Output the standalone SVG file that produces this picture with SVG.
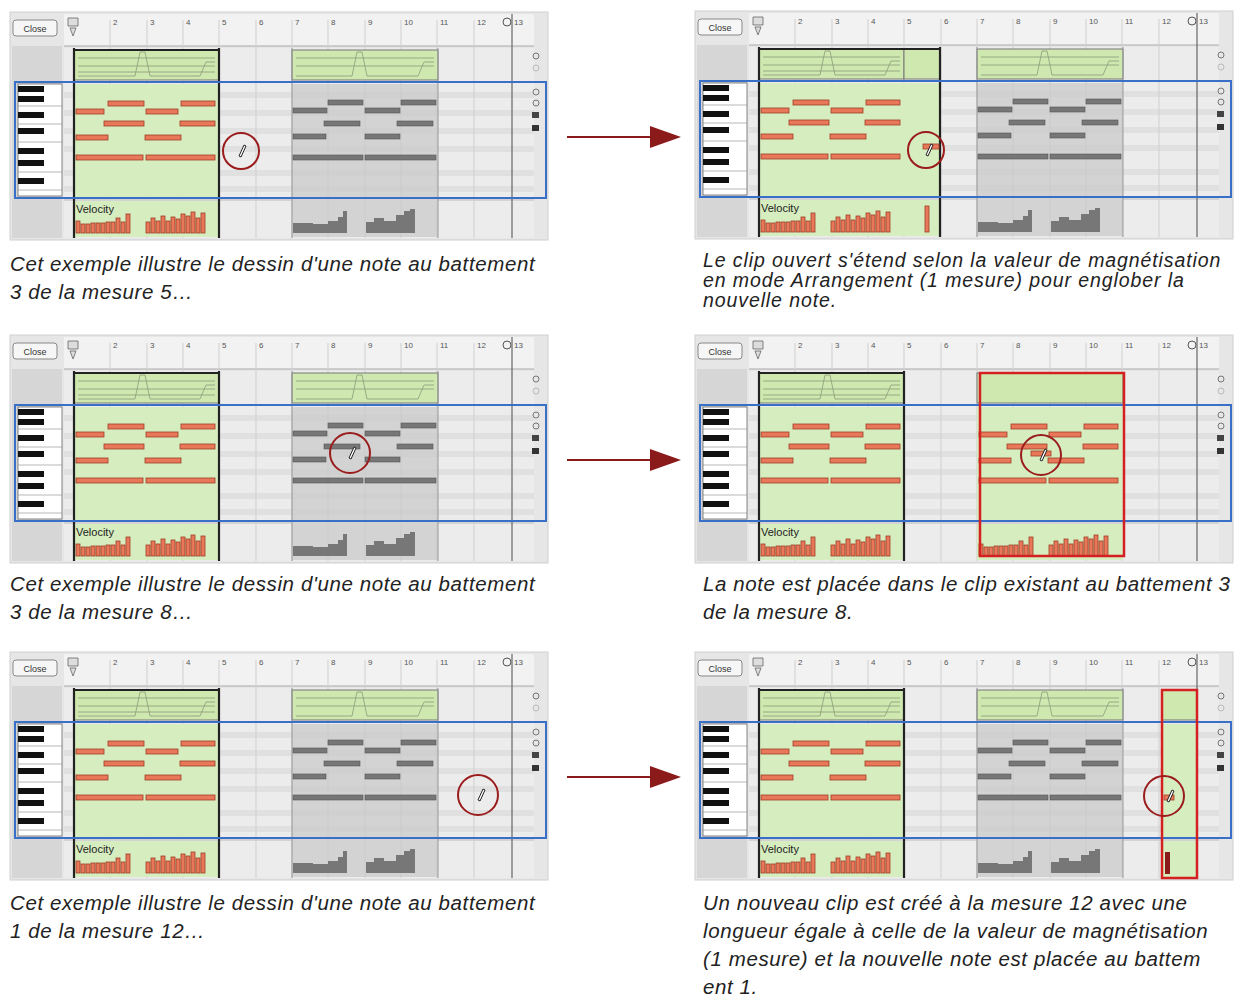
<svg xmlns="http://www.w3.org/2000/svg" width="1243" height="1004" viewBox="0 0 1243 1004">
<style>
.cap{font-family:"Liberation Sans",Arial,sans-serif;font-style:italic;font-size:20.5px;letter-spacing:0.6px;fill:#222}
.capr{font-family:"Liberation Sans",Arial,sans-serif;font-style:italic;font-size:19.5px;letter-spacing:0.9px;fill:#222}
.rn{font-family:"Liberation Sans",Arial,sans-serif;font-size:8px;fill:#555}
.on{fill:#e9785a;stroke:#9c3f27;stroke-width:0.8}
.gn{fill:#777;stroke:#555;stroke-width:0.6}
.ml{stroke:#cfcfcf;stroke-width:1}
.bold{stroke:#222;stroke-width:2.2}
.gr{fill:#d6edbf}
.grt{fill:#cfe8b0;stroke:#777;stroke-width:1}
.gy{fill:#c9c9c9;opacity:0.7}
.red{fill:none;stroke:#d42020;stroke-width:2.5}
.circ{fill:none;stroke:#9b1c1c;stroke-width:2}
.arr{stroke:#8b1a1a;stroke-width:2}
</style>
<defs>
<g id="base">
<rect x="10" y="12" width="538" height="228" fill="#e6e6e6" stroke="#cfcfcf"/>
<rect x="64" y="14" width="470" height="32" fill="#f2f2f2"/>
<line x1="64" y1="46" x2="534" y2="46" stroke="#aaa"/>
<rect x="13" y="20" width="44" height="16" rx="3" fill="#f6f6f6" stroke="#888"/>
<text x="35" y="32" text-anchor="middle" font-family="Liberation Sans,Arial,sans-serif" font-size="9" fill="#333">Close</text>
<rect x="12" y="46" width="50" height="192" fill="#d6d6d6"/>
<rect x="64" y="48" width="470" height="190" fill="#ececec"/>
<g fill="#e0e0e0">
<rect x="64" y="92" width="470" height="6"/><rect x="64" y="110" width="470" height="6"/><rect x="64" y="128" width="470" height="6"/><rect x="64" y="146" width="470" height="6"/><rect x="64" y="170" width="470" height="6"/><rect x="64" y="186" width="470" height="6"/>
</g>
<line x1="64" y1="200" x2="534" y2="200" stroke="#bbb"/>
<g class="ml">
<line x1="110" y1="20" x2="110" y2="238"/><line x1="147" y1="20" x2="147" y2="238"/><line x1="183" y1="20" x2="183" y2="238"/><line x1="219" y1="20" x2="219" y2="238"/><line x1="256" y1="20" x2="256" y2="238"/><line x1="292" y1="20" x2="292" y2="238"/><line x1="328" y1="20" x2="328" y2="238"/><line x1="365" y1="20" x2="365" y2="238"/><line x1="401" y1="20" x2="401" y2="238"/><line x1="437" y1="20" x2="437" y2="238"/><line x1="474" y1="20" x2="474" y2="238"/>
</g>
<g class="rn">
<text x="113" y="25">2</text><text x="150" y="25">3</text><text x="186" y="25">4</text><text x="222" y="25">5</text><text x="259" y="25">6</text><text x="295" y="25">7</text><text x="331" y="25">8</text><text x="368" y="25">9</text><text x="404" y="25">10</text><text x="440" y="25">11</text><text x="477" y="25">12</text><text x="514" y="25">13</text>
</g>
<circle cx="507" cy="22" r="4" fill="none" stroke="#555"/>
<path d="M68 18 h10 v8 h-10 z M70 28 l3 8 l3 -8 z" fill="#ddd" stroke="#666" stroke-width="0.8"/>
<rect x="18" y="84" width="44" height="112" fill="#fff" stroke="#666" stroke-width="0.8"/>
<g fill="#111">
<rect x="18" y="86" width="26" height="6"/><rect x="18" y="96" width="26" height="6"/><rect x="18" y="112" width="26" height="6"/><rect x="18" y="128" width="26" height="6"/><rect x="18" y="148" width="26" height="6"/><rect x="18" y="160" width="26" height="6"/><rect x="18" y="178" width="26" height="6"/>
</g>
<g stroke="#888" stroke-width="0.6"><line x1="18" y1="106" x2="62" y2="106"/><line x1="18" y1="124" x2="62" y2="124"/><line x1="18" y1="142" x2="62" y2="142"/><line x1="18" y1="172" x2="62" y2="172"/><line x1="18" y1="190" x2="62" y2="190"/></g>
<g fill="none" stroke="#777" stroke-width="1">
<circle cx="536" cy="56" r="3"/><circle cx="536" cy="68" r="3" stroke="#bbb"/><circle cx="536" cy="92" r="3"/><circle cx="536" cy="103" r="3"/>
</g>
<rect x="532" y="112" width="7" height="6" fill="#444"/><rect x="532" y="125" width="7" height="6" fill="#333"/>
<line x1="512" y1="14" x2="512" y2="238" stroke="#666" stroke-width="1.2"/>
</g>
<g id="clipA">
<rect x="74" y="50" width="145" height="30" class="grt"/>
<g stroke="#8a9a78" stroke-width="0.8" fill="none"><line x1="78" y1="58" x2="215" y2="58"/><line x1="78" y1="66" x2="215" y2="66"/><line x1="78" y1="72" x2="215" y2="72"/><path d="M78 76 H135 L140 52 H145 L150 76 H200 L206 62 H215"/></g>
<rect x="74" y="84" width="145" height="113" class="gr"/>
<rect x="74" y="201" width="145" height="36" class="gr"/>
</g>
<g id="notesA">
<rect x="108" y="101" width="36" height="5" class="on"/><rect x="181" y="101" width="34" height="5" class="on"/>
<rect x="76" y="109" width="28" height="5" class="on"/><rect x="146" y="109" width="32" height="5" class="on"/>
<rect x="104" y="121" width="40" height="5" class="on"/><rect x="180" y="121" width="35" height="5" class="on"/>
<rect x="76" y="135" width="32" height="5" class="on"/><rect x="145" y="135" width="36" height="5" class="on"/>
<rect x="76" y="155" width="67" height="5" class="on"/><rect x="146" y="155" width="69" height="5" class="on"/>
</g>
<g id="velA" class="on">
<rect x="76" y="221" width="4" height="12"/><rect x="81" y="224" width="4" height="9"/><rect x="86" y="224" width="4" height="9"/><rect x="91" y="223" width="4" height="10"/><rect x="96" y="223" width="4" height="10"/><rect x="101" y="223" width="4" height="10"/><rect x="106" y="222" width="4" height="11"/><rect x="111" y="222" width="4" height="11"/><rect x="116" y="218" width="4" height="15"/><rect x="121" y="222" width="4" height="11"/><rect x="126" y="214" width="4" height="19"/>
<rect x="146" y="222" width="4" height="11"/><rect x="151" y="218" width="4" height="15"/><rect x="156" y="221" width="4" height="12"/><rect x="161" y="216" width="4" height="17"/><rect x="166" y="221" width="4" height="12"/><rect x="171" y="217" width="4" height="16"/><rect x="176" y="219" width="4" height="14"/><rect x="181" y="214" width="4" height="19"/><rect x="186" y="216" width="4" height="17"/><rect x="191" y="212" width="4" height="21"/><rect x="196" y="218" width="4" height="15"/><rect x="201" y="213" width="4" height="20"/>
</g>
<g id="clipBgray">
<rect x="292" y="50" width="146" height="30" class="grt"/>
<g stroke="#8a9a78" stroke-width="0.8" fill="none"><line x1="296" y1="58" x2="434" y2="58"/><line x1="296" y1="66" x2="434" y2="66"/><path d="M296 76 H352 L357 52 H362 L367 76 H418 L424 62 H434"/></g>
<rect x="292" y="84" width="146" height="113" class="gy"/>
<rect x="292" y="201" width="146" height="36" class="gy"/>
<line x1="292" y1="48" x2="292" y2="238" stroke="#999"/><line x1="438" y1="48" x2="438" y2="238" stroke="#999"/>
<g class="gn">
<rect x="328" y="100" width="35" height="5"/><rect x="401" y="100" width="35" height="5"/>
<rect x="293" y="108" width="34" height="5"/><rect x="365" y="108" width="35" height="5"/>
<rect x="324" y="121" width="36" height="5"/><rect x="397" y="121" width="36" height="5"/>
<rect x="293" y="134" width="33" height="5"/><rect x="365" y="134" width="35" height="5"/>
<rect x="293" y="155" width="70" height="5"/><rect x="365" y="155" width="71" height="5"/>
</g>
<path d="M293 233 V223 h20 v1 h15 v-3 h10 v-4 h5 v-6 h4 v22 z M366 233 V222 h8 v-4 h10 v3 h12 v-6 h8 v-4 h6 v-2 h5 v24 z" fill="#777"/>
</g>
<g id="box"><rect x="15" y="82" width="531" height="116" fill="none" stroke="#3a6fc8" stroke-width="2"/></g>
<g id="pen"><path d="M-2 5 L3 -6 L5 -5 L0 6 Z" fill="#fff" stroke="#222" stroke-width="1"/></g>
</defs>

<g id="panel-L1">
<use href="#base"/><use href="#clipA"/><use href="#notesA"/><use href="#velA"/><use href="#clipBgray"/>
<line x1="74" y1="48" x2="74" y2="238" class="bold"/><line x1="219" y1="48" x2="219" y2="238" class="bold"/><line x1="74" y1="50" x2="219" y2="50" class="bold"/>
<text x="76" y="213" font-family="Liberation Sans,Arial,sans-serif" font-size="11" fill="#222">Velocity</text>
<use href="#box"/>
<circle cx="241" cy="151" r="18" class="circ"/><use href="#pen" x="241" y="151"/>
</g>

<g id="panel-R1" transform="translate(685,-1)">
<use href="#base"/><use href="#clipA"/>
<rect x="219" y="50" width="36" height="30" class="grt"/><rect x="219" y="84" width="36" height="113" class="gr"/><rect x="219" y="201" width="36" height="36" class="gr"/>
<use href="#notesA"/><use href="#velA"/><use href="#clipBgray"/>
<rect x="240" y="207" width="4" height="26" class="on"/>
<line x1="74" y1="48" x2="74" y2="238" class="bold"/><line x1="255" y1="48" x2="255" y2="238" class="bold"/><line x1="74" y1="50" x2="255" y2="50" class="bold"/>
<rect x="238" y="145" width="16" height="5" class="on"/>
<text x="76" y="213" font-family="Liberation Sans,Arial,sans-serif" font-size="11" fill="#222">Velocity</text>
<use href="#box"/>
<circle cx="241" cy="151" r="18" class="circ"/><use href="#pen" x="243" y="151"/>
</g>

<g id="panel-L2" transform="translate(0,323)">
<use href="#base"/><use href="#clipA"/><use href="#notesA"/><use href="#velA"/><use href="#clipBgray"/>
<line x1="74" y1="48" x2="74" y2="238" class="bold"/><line x1="219" y1="48" x2="219" y2="238" class="bold"/><line x1="74" y1="50" x2="219" y2="50" class="bold"/>
<text x="76" y="213" font-family="Liberation Sans,Arial,sans-serif" font-size="11" fill="#222">Velocity</text>
<use href="#box"/>
<circle cx="350" cy="130" r="20" class="circ"/><use href="#pen" x="351" y="130"/>
</g>

<g id="panel-R2" transform="translate(685,323)">
<use href="#base"/><use href="#clipA"/><use href="#notesA"/><use href="#velA"/>
<rect x="292" y="50" width="146" height="30" class="grt"/><rect x="292" y="84" width="146" height="113" class="gr"/><rect x="292" y="201" width="146" height="36" class="gr"/>
<use href="#notesA" x="218"/><use href="#velA" x="218"/>
<rect x="346" y="128" width="20" height="5" class="on"/>
<line x1="74" y1="48" x2="74" y2="238" class="bold"/><line x1="219" y1="48" x2="219" y2="238" class="bold"/><line x1="74" y1="50" x2="219" y2="50" class="bold"/>
<text x="76" y="213" font-family="Liberation Sans,Arial,sans-serif" font-size="11" fill="#222">Velocity</text>
<use href="#box"/>
<rect x="295" y="50" width="144" height="183" class="red"/>
<circle cx="356" cy="132" r="20" class="circ"/><use href="#pen" x="357" y="132"/>
</g>

<g id="panel-L3" transform="translate(0,640)">
<use href="#base"/><use href="#clipA"/><use href="#notesA"/><use href="#velA"/><use href="#clipBgray"/>
<line x1="74" y1="48" x2="74" y2="238" class="bold"/><line x1="219" y1="48" x2="219" y2="238" class="bold"/><line x1="74" y1="50" x2="219" y2="50" class="bold"/>
<text x="76" y="213" font-family="Liberation Sans,Arial,sans-serif" font-size="11" fill="#222">Velocity</text>
<use href="#box"/>
<circle cx="478" cy="155" r="20" class="circ"/><use href="#pen" x="480" y="155"/>
</g>

<g id="panel-R3" transform="translate(685,640)">
<use href="#base"/><use href="#clipA"/><use href="#notesA"/><use href="#velA"/><use href="#clipBgray"/>
<rect x="477" y="50" width="35" height="30" class="grt"/><rect x="477" y="84" width="35" height="113" class="gr"/><rect x="477" y="201" width="35" height="36" class="gr"/>
<rect x="479" y="155" width="10" height="5" class="on"/>
<rect x="480" y="212" width="5" height="22" fill="#8b1a1a"/>
<line x1="74" y1="48" x2="74" y2="238" class="bold"/><line x1="219" y1="48" x2="219" y2="238" class="bold"/><line x1="74" y1="50" x2="219" y2="50" class="bold"/>
<text x="76" y="213" font-family="Liberation Sans,Arial,sans-serif" font-size="11" fill="#222">Velocity</text>
<use href="#box"/>
<rect x="477" y="50" width="35" height="188" class="red"/>
<circle cx="479" cy="156" r="20" class="circ"/><use href="#pen" x="484" y="156"/>
</g>

<g id="connectors">
<line x1="567" y1="137" x2="652" y2="137" class="arr"/><path d="M650 126 L681 137 L650 148 Z" fill="#8b1a1a"/>
<line x1="567" y1="460" x2="652" y2="460" class="arr"/><path d="M650 449 L681 460 L650 471 Z" fill="#8b1a1a"/>
<line x1="567" y1="777" x2="652" y2="777" class="arr"/><path d="M650 766 L681 777 L650 788 Z" fill="#8b1a1a"/>
</g>

<g id="captions">
<text class="cap" x="10" y="271">Cet exemple illustre le dessin d'une note au battement</text>
<text class="cap" x="10" y="299">3 de la mesure 5…</text>
<text class="capr" x="703" y="267">Le clip ouvert s'étend selon la valeur de magnétisation</text>
<text class="capr" x="703" y="287">en mode Arrangement (1 mesure) pour englober la</text>
<text class="capr" x="703" y="307">nouvelle note.</text>
<text class="cap" x="10" y="591">Cet exemple illustre le dessin d'une note au battement</text>
<text class="cap" x="10" y="619">3 de la mesure 8…</text>
<text class="cap" x="703" y="591">La note est placée dans le clip existant au battement 3</text>
<text class="cap" x="703" y="619">de la mesure 8.</text>
<text class="cap" x="10" y="910">Cet exemple illustre le dessin d'une note au battement</text>
<text class="cap" x="10" y="938">1 de la mesure 12…</text>
<text class="cap" x="703" y="910">Un nouveau clip est créé à la mesure 12 avec une</text>
<text class="cap" x="703" y="938">longueur égale à celle de la valeur de magnétisation</text>
<text class="cap" x="703" y="966">(1 mesure) et la nouvelle note est placée au battem</text>
<text class="cap" x="703" y="994">ent 1.</text>
</g>
</svg>
